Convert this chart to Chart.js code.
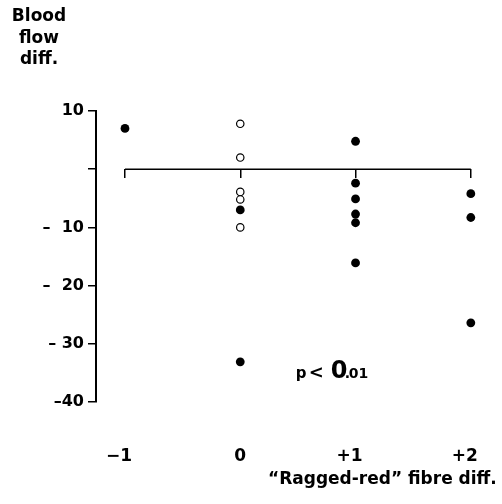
<!DOCTYPE html>
<html>
<head>
<meta charset="utf-8">
<script src="https://cdn.jsdelivr.net/npm/chart.js"></script>
<style>
  html, body { margin: 0; padding: 0; background: #fff; }
  #wrap { width: 502px; height: 504px; }
</style>
</head>
<body>
<div id="wrap"><canvas id="chart" width="502" height="504"></canvas></div>
<script>
// x categories ("Ragged-red" fibre diff.) and their tick labels
const categories = [-1, 0, 1, 2];
const xTickLabels = ['\u22121', '0', '+1', '+2'];

// y ticks (blood flow diff.)
const yTicks = [10, 0, -10, -20, -30, -40];
const yTickLabels = ['10', '', '\u2013  10', '\u2013  20', '\u2013 30', '\u201340'];

// values, one list per column
const colMinus1 = [7.0];
const col0Filled = [-7.0, -33.1];
const col0Open = [7.8, 2.0, -3.9, -5.2, -10.0];
const colPlus1 = [4.8, -2.4, -5.1, -7.7, -9.2, -16.1];
const colPlus2 = [-4.2, -8.3, -26.4];

const pts = (x, ys) => ys.map(y => ({ x, y }));
const filled = [
  ...pts(-1, colMinus1),
  ...pts(0, col0Filled),
  ...pts(1, colPlus1),
  ...pts(2, colPlus2)
];
const open = pts(0, col0Open);

const X_MIN = -1.2514, X_MAX = 2.2254;
const FONT = "'DejaVu Sans', sans-serif";

// labels that are not part of an axis
const textPlugin = {
  id: 'texts',
  afterDraw(chart) {
    const ctx = chart.ctx;
    const { x, y } = chart.scales;
    ctx.save();
    ctx.fillStyle = '#000';

    // y title, top left
    ctx.font = `bold 17px ${FONT}`;
    ctx.textAlign = 'center';
    ctx.textBaseline = 'middle';
    ['Blood', 'flow', 'diff.'].forEach((t, i) => ctx.fillText(t, 39, 17 + i * 21.5));

    // p < 0.01
    const px = x.getPixelForValue(0.49);
    const py = y.getPixelForValue(-35.8);
    ctx.textAlign = 'left';
    ctx.textBaseline = 'alphabetic';
    ctx.font = `bold 15px ${FONT}`;
    ctx.fillText('p', px - 1, py);
    ctx.font = `bold 18px ${FONT}`;
    ctx.fillText('<', px + 12, py);
    ctx.font = `bold 24px ${FONT}`;
    ctx.fillText('0', px + 34, py);
    ctx.font = `bold 14px ${FONT}`;
    ctx.fillText('.', px + 48, py);
    ctx.fillText('01', px + 52, py);
    ctx.restore();
  }
};

new Chart(document.getElementById('chart'), {
  type: 'scatter',
  data: {
    datasets: [
      {
        data: filled,
        pointRadius: 4.4,
        pointBackgroundColor: '#000',
        pointBorderWidth: 0,
        order: 1
      },
      {
        data: open,
        pointRadius: 3.7,
        pointBackgroundColor: '#fff',
        pointBorderColor: '#000',
        pointBorderWidth: 1.2,
        order: 2
      },
      {
        type: 'line',
        data: [{ x: categories[0], y: 0 }, { x: categories[categories.length - 1], y: 0 }],
        borderColor: '#000',
        borderWidth: 1.6,
        pointRadius: 0,
        order: 3
      }
    ]
  },
  options: {
    responsive: false,
    animation: false,
    events: [],
    layout: { padding: { top: 111, right: 5, left: 0, bottom: 0 } },
    plugins: { legend: { display: false }, tooltip: { enabled: false } },
    scales: {
      x: {
        type: 'linear',
        min: X_MIN,
        max: X_MAX,
        afterBuildTicks: s => { s.ticks = categories.map(v => ({ value: v })); },
        afterFit: s => { s.height = 102; s.paddingLeft = 0; s.paddingRight = 0; },
        grid: { display: false, drawTicks: false },
        border: { display: false },
        ticks: {
          color: '#000',
          font: { family: FONT, size: 17, weight: 'bold' },
          padding: 44,
          maxRotation: 0,
          callback: (v, i) => xTickLabels[i] + (i === 1 ? '' : '\u2007')
        },
        title: {
          display: true,
          text: '\u201cRagged-red\u201d fibre diff.',
          align: 'end',
          color: '#000',
          font: { family: FONT, size: 17, weight: 'bold' },
          padding: { top: 0, bottom: 14 }
        }
      },
      x2: {
        type: 'linear',
        axis: 'x',
        position: { y: 0 },
        min: X_MIN,
        max: X_MAX,
        afterBuildTicks: s => { s.ticks = categories.map(v => ({ value: v })); },
        afterFit: s => { s.paddingLeft = 0; s.paddingRight = 0; },
        grid: { display: true, drawOnChartArea: false, drawTicks: true, tickLength: 9, color: '#000', lineWidth: 1.5 },
        border: { display: false },
        ticks: { display: false }
      },
      y: {
        type: 'linear',
        min: -40,
        max: 10,
        afterBuildTicks: s => { s.ticks = yTicks.map(v => ({ value: v })); },
        afterFit: s => { s.width = 96; },
        grid: { display: true, drawOnChartArea: false, drawTicks: true, tickLength: 8, color: '#000', lineWidth: 1.5 },
        border: { display: true, color: '#000', width: 2 },
        ticks: {
          color: '#000',
          font: { family: FONT, size: 16, weight: 'bold' },
          padding: 4,
          callback: (v, i) => yTickLabels[i]
        }
      }
    }
  },
  plugins: [textPlugin]
});
</script>
</body>
</html>
